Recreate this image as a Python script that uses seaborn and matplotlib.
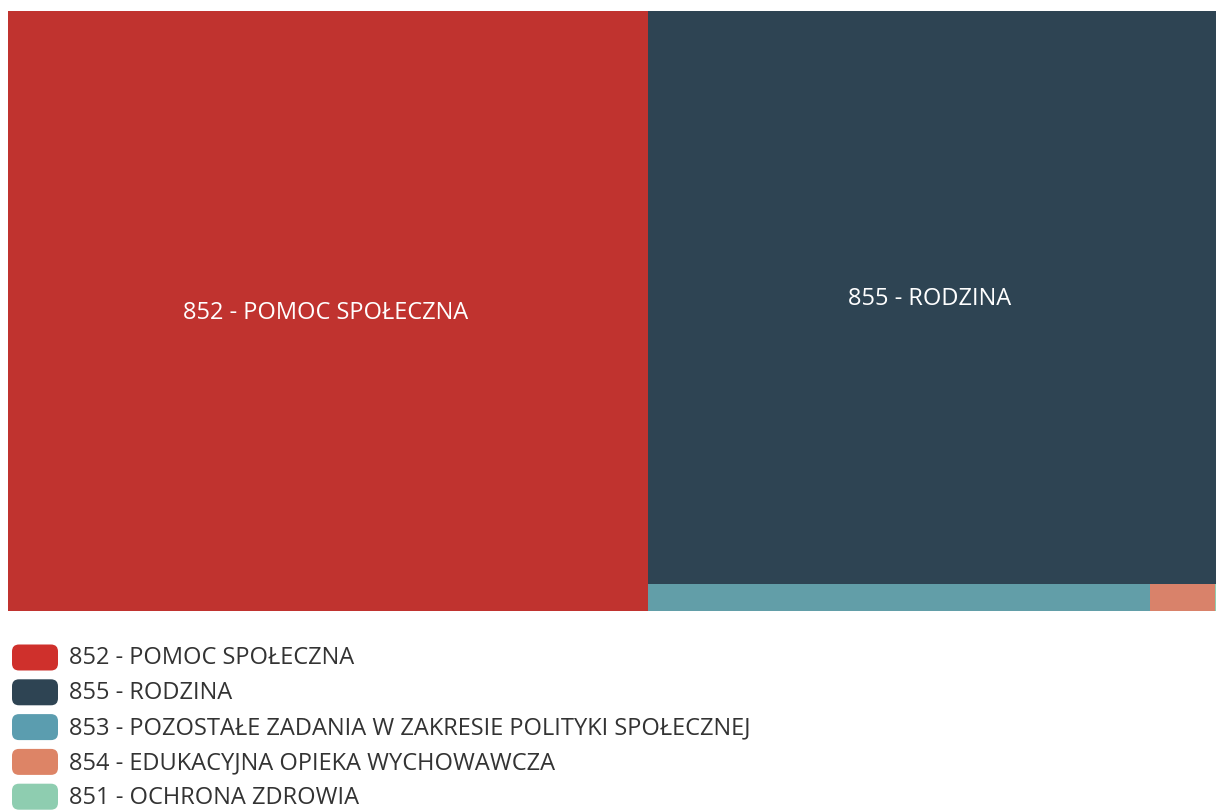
import matplotlib
matplotlib.use("Agg")
import matplotlib.pyplot as plt
from matplotlib.patches import FancyBboxPatch
import seaborn as sns

# Expenditure by chapter (thousand PLN)
categories = [
    "852 - POMOC SPOŁECZNA",
    "855 - RODZINA",
    "853 - POZOSTAŁE ZADANIA W ZAKRESIE POLITYKI SPOŁECZNEJ",
    "854 - EDUKACYJNA OPIEKA WYCHOWAWCZA",
    "851 - OCHRONA ZDROWIA",
]
values = [38450, 32580, 1360, 178, 2]
colors = ["#C0332F", "#2E4453", "#629EA8", "#D9826A", "#8ECDB0"]
legend_colors = ["#CF302C", "#2E4453", "#5B9DAF", "#DD8466", "#8ECDB0"]
show_label = [True, True, False, False, False]

sns.set_theme(style="white")
plt.rcParams["font.family"] = ["Open Sans", "DejaVu Sans"]


def worst(row, side):
    s = sum(row)
    return max(max(side * side * r / (s * s), s * s / (side * side * r)) for r in row)


def squarify(sizes, x, y, w, h):
    """Squarified treemap layout; y measured from the top."""
    rects = []
    sizes = list(sizes)
    while sizes:
        side = min(w, h)
        row = [sizes.pop(0)]
        while sizes and worst(row + [sizes[0]], side) <= worst(row, side):
            row.append(sizes.pop(0))
        s = sum(row)
        if w >= h:  # column on the left
            cw = s / h
            cy = y
            for r in row:
                rh = r / cw
                rects.append((x, cy, cw, rh))
                cy += rh
            x += cw
            w -= cw
        else:  # row along the top
            rh = s / w
            cx = x
            for r in row:
                rw = r / rh
                rects.append((cx, y, rw, rh))
                cx += rw
            y += rh
            h -= rh
    return rects


W, H = 1208.0, 600.0
total = sum(values)
scaled = [v / total * W * H for v in values]
rects = squarify(scaled, 0, 0, W, H)

fig = plt.figure(figsize=(12.16, 8.12), dpi=100)
ax = fig.add_axes([8 / 1216, (812 - 612) / 812, 1208 / 1216, 600 / 812])
ax.set_xlim(0, W)
ax.set_ylim(H, 0)
ax.axis("off")

for (rx, ry, rw, rh), c, name, lab in zip(rects, colors, categories, show_label):
    ax.bar(rx, rh, width=rw, bottom=ry, align="edge", color=c, edgecolor="none", linewidth=0)
    if lab:
        ax.text(rx + rw / 2 - 2, ry + rh / 2 + 1, name, color="white", fontsize=17,
                ha="center", va="center")

# Legend
lax = fig.add_axes([0, 0, 1, 1], facecolor="none")
lax.set_xlim(0, 1216)
lax.set_ylim(812, 0)
lax.axis("off")
y0, step = 658.5, 34.8
for i, (name, c) in enumerate(zip(categories, legend_colors)):
    yc = y0 + i * step
    lax.add_patch(FancyBboxPatch((12, yc - 13), 46, 26,
                                 boxstyle="round,pad=0,rounding_size=7",
                                 facecolor=c, edgecolor="none"))
    lax.text(69, yc, name, color="#333333", fontsize=17, ha="left", va="center")

fig.savefig("out.png", dpi=100, facecolor="white")
